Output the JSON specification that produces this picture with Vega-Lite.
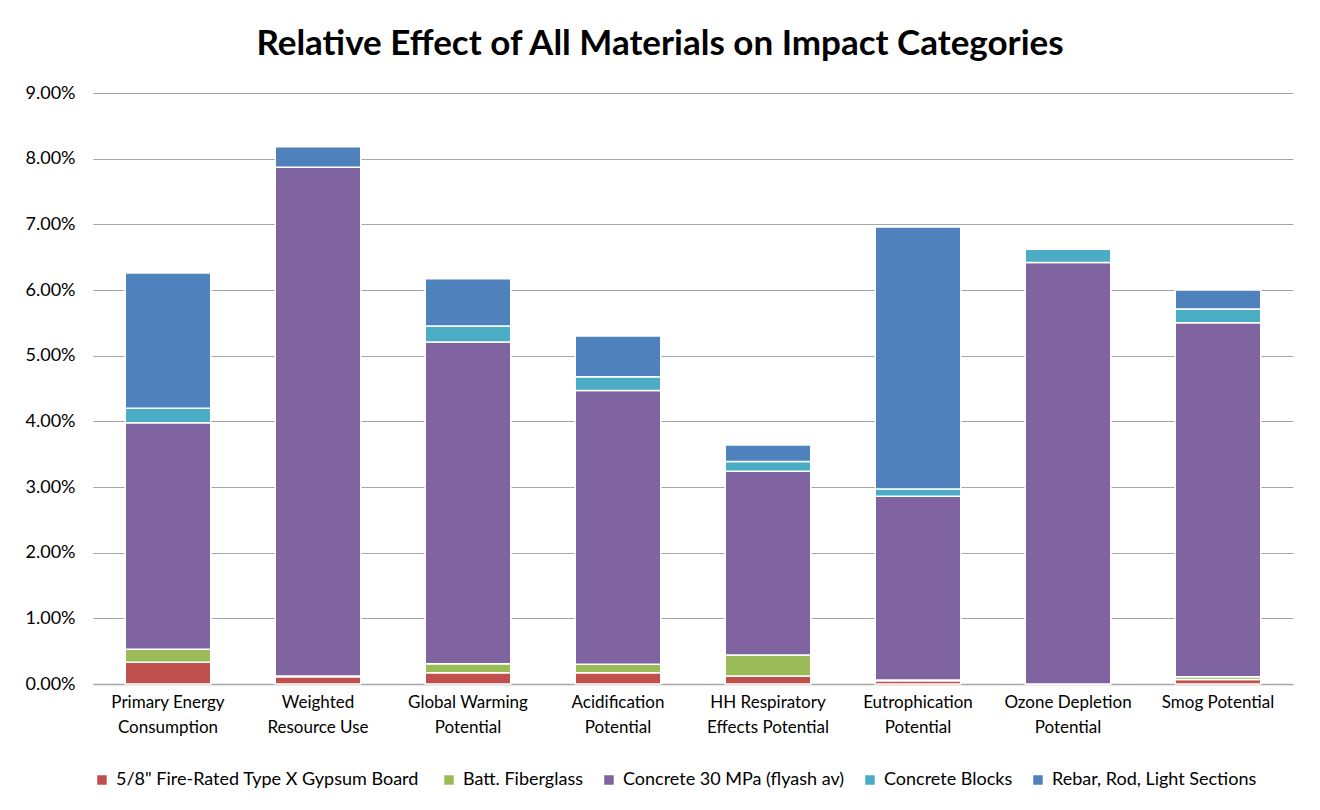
{
  "$schema": "https://vega.github.io/schema/vega-lite/v6.json",
  "width": 1200,
  "height": 591,
  "autosize": {"type": "none"},
  "padding": {"left": 93, "top": 93, "right": 27, "bottom": 126},
  "background": "white",
  "title": {
    "text": "Relative Effect of All Materials on Impact Categories",
    "font": "Lato",
    "fontSize": 35,
    "fontWeight": "bold",
    "color": "#000000",
    "anchor": "middle",
    "dx": -33,
    "offset": 22
  },
  "data": {
    "values": [
      {"category": "Primary Energy|Consumption", "material": "5/8\"  Fire-Rated Type X Gypsum Board", "ord": 1, "value": 0.0033},
      {"category": "Primary Energy|Consumption", "material": "Batt. Fiberglass", "ord": 2, "value": 0.0020},
      {"category": "Primary Energy|Consumption", "material": "Concrete 30 MPa (flyash av)", "ord": 3, "value": 0.0345},
      {"category": "Primary Energy|Consumption", "material": "Concrete Blocks", "ord": 4, "value": 0.0022},
      {"category": "Primary Energy|Consumption", "material": "Rebar, Rod, Light Sections", "ord": 5, "value": 0.0206},

      {"category": "Weighted|Resource Use", "material": "5/8\"  Fire-Rated Type X Gypsum Board", "ord": 1, "value": 0.0011},
      {"category": "Weighted|Resource Use", "material": "Batt. Fiberglass", "ord": 2, "value": 0.0001},
      {"category": "Weighted|Resource Use", "material": "Concrete 30 MPa (flyash av)", "ord": 3, "value": 0.0775},
      {"category": "Weighted|Resource Use", "material": "Concrete Blocks", "ord": 4, "value": 0.0000},
      {"category": "Weighted|Resource Use", "material": "Rebar, Rod, Light Sections", "ord": 5, "value": 0.0031},

      {"category": "Global Warming|Potential", "material": "5/8\"  Fire-Rated Type X Gypsum Board", "ord": 1, "value": 0.0017},
      {"category": "Global Warming|Potential", "material": "Batt. Fiberglass", "ord": 2, "value": 0.0014},
      {"category": "Global Warming|Potential", "material": "Concrete 30 MPa (flyash av)", "ord": 3, "value": 0.0490},
      {"category": "Global Warming|Potential", "material": "Concrete Blocks", "ord": 4, "value": 0.0024},
      {"category": "Global Warming|Potential", "material": "Rebar, Rod, Light Sections", "ord": 5, "value": 0.0072},

      {"category": "Acidification|Potential", "material": "5/8\"  Fire-Rated Type X Gypsum Board", "ord": 1, "value": 0.0017},
      {"category": "Acidification|Potential", "material": "Batt. Fiberglass", "ord": 2, "value": 0.0013},
      {"category": "Acidification|Potential", "material": "Concrete 30 MPa (flyash av)", "ord": 3, "value": 0.0417},
      {"category": "Acidification|Potential", "material": "Concrete Blocks", "ord": 4, "value": 0.0021},
      {"category": "Acidification|Potential", "material": "Rebar, Rod, Light Sections", "ord": 5, "value": 0.0062},

      {"category": "HH Respiratory|Effects Potential", "material": "5/8\"  Fire-Rated Type X Gypsum Board", "ord": 1, "value": 0.0012},
      {"category": "HH Respiratory|Effects Potential", "material": "Batt. Fiberglass", "ord": 2, "value": 0.0032},
      {"category": "HH Respiratory|Effects Potential", "material": "Concrete 30 MPa (flyash av)", "ord": 3, "value": 0.0280},
      {"category": "HH Respiratory|Effects Potential", "material": "Concrete Blocks", "ord": 4, "value": 0.0015},
      {"category": "HH Respiratory|Effects Potential", "material": "Rebar, Rod, Light Sections", "ord": 5, "value": 0.0025},

      {"category": "Eutrophication|Potential", "material": "5/8\"  Fire-Rated Type X Gypsum Board", "ord": 1, "value": 0.0005},
      {"category": "Eutrophication|Potential", "material": "Batt. Fiberglass", "ord": 2, "value": 0.0001},
      {"category": "Eutrophication|Potential", "material": "Concrete 30 MPa (flyash av)", "ord": 3, "value": 0.0280},
      {"category": "Eutrophication|Potential", "material": "Concrete Blocks", "ord": 4, "value": 0.0011},
      {"category": "Eutrophication|Potential", "material": "Rebar, Rod, Light Sections", "ord": 5, "value": 0.0399},

      {"category": "Ozone Depletion|Potential", "material": "5/8\"  Fire-Rated Type X Gypsum Board", "ord": 1, "value": 0.0000},
      {"category": "Ozone Depletion|Potential", "material": "Batt. Fiberglass", "ord": 2, "value": 0.0000},
      {"category": "Ozone Depletion|Potential", "material": "Concrete 30 MPa (flyash av)", "ord": 3, "value": 0.0642},
      {"category": "Ozone Depletion|Potential", "material": "Concrete Blocks", "ord": 4, "value": 0.0020},
      {"category": "Ozone Depletion|Potential", "material": "Rebar, Rod, Light Sections", "ord": 5, "value": 0.0000},

      {"category": "Smog Potential", "material": "5/8\"  Fire-Rated Type X Gypsum Board", "ord": 1, "value": 0.0007},
      {"category": "Smog Potential", "material": "Batt. Fiberglass", "ord": 2, "value": 0.0004},
      {"category": "Smog Potential", "material": "Concrete 30 MPa (flyash av)", "ord": 3, "value": 0.0539},
      {"category": "Smog Potential", "material": "Concrete Blocks", "ord": 4, "value": 0.0021},
      {"category": "Smog Potential", "material": "Rebar, Rod, Light Sections", "ord": 5, "value": 0.0029}
    ]
  },
  "mark": {"type": "bar", "stroke": "white", "strokeWidth": 1.5},
  "encoding": {
    "x": {
      "field": "category",
      "type": "nominal",
      "sort": null,
      "title": null,
      "scale": {"paddingInner": 0.43, "paddingOuter": 0.215},
      "axis": {
        "labelExpr": "split(datum.value, '|')",
        "labelAngle": 0,
        "labelFont": "Lato",
        "labelFontSize": 17,
        "labelColor": "#000000",
        "labelPadding": 10,
        "labelLineHeight": 25,
        "ticks": false,
        "domainColor": "#A6A6A6",
        "domainWidth": 1.5,
        "labelLimit": 200
      }
    },
    "y": {
      "field": "value",
      "type": "quantitative",
      "stack": "zero",
      "title": null,
      "scale": {"domain": [0, 0.09], "nice": false},
      "axis": {
        "format": ".2%",
        "values": [0, 0.01, 0.02, 0.03, 0.04, 0.05, 0.06, 0.07, 0.08, 0.09],
        "labelOverlap": false,
        "labelFlush": false,
        "labelFont": "Lato",
        "labelFontSize": 18,
        "labelColor": "#000000",
        "labelPadding": 18,
        "ticks": false,
        "domain": false,
        "gridColor": "#A6A6A6",
        "gridWidth": 1
      }
    },
    "color": {
      "field": "material",
      "type": "nominal",
      "sort": null,
      "scale": {
        "domain": ["5/8\"  Fire-Rated Type X Gypsum Board", "Batt. Fiberglass", "Concrete 30 MPa (flyash av)", "Concrete Blocks", "Rebar, Rod, Light Sections"],
        "range": ["#C0504D", "#9BBB59", "#8064A2", "#4BACC6", "#4F81BD"]
      },
      "legend": {
        "title": null,
        "orient": "bottom",
        "direction": "horizontal",
        "symbolType": "square",
        "symbolSize": 90,
        "symbolStrokeWidth": 0,
        "labelFont": "Lato",
        "labelFontSize": 18,
        "labelColor": "#000000",
        "columnPadding": 16,
        "labelOffset": 5,
        "offset": 36,
        "labelLimit": 400
      }
    },
    "order": {"field": "ord", "type": "quantitative"}
  },
  "config": {
    "view": {"stroke": null}
  }
}
